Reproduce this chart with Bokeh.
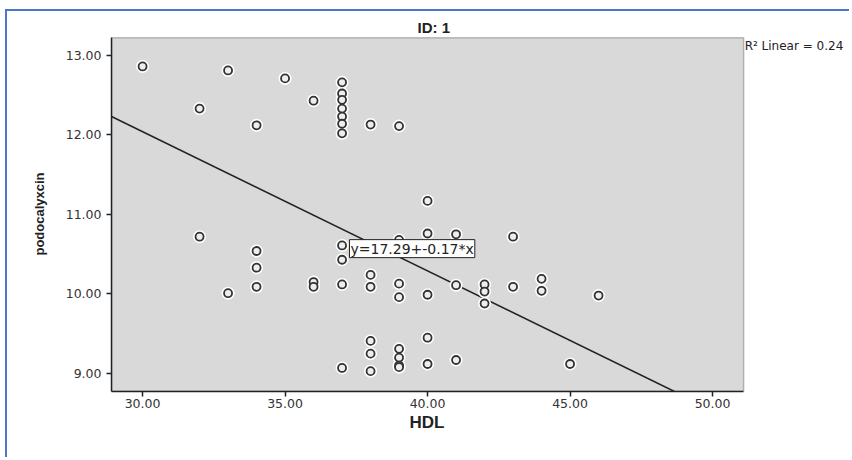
from bokeh.plotting import figure
from bokeh.models import Range1d, FixedTicker, PrintfTickFormatter, Label, BoxAnnotation, Title
from bokeh.embed import file_html
from bokeh.resources import INLINE
import numpy as np

# ---- data ----
hdl = [30, 33, 35, 37, 37, 37, 37, 37, 37, 37, 36, 32, 34, 38, 39,
       40, 32, 34, 34, 34, 33, 36, 36, 37, 37, 37, 38, 38, 39, 40, 41, 43,
       39, 39, 40, 41, 42, 42, 42, 43, 44, 44, 46,
       37, 38, 38, 38, 39, 39, 39, 39, 40, 40, 41, 45]
podo = [12.86, 12.81, 12.71, 12.66, 12.52, 12.44, 12.33, 12.23, 12.14, 12.02, 12.43, 12.33, 12.12, 12.13, 12.11,
        11.17, 10.72, 10.54, 10.33, 10.09, 10.01, 10.15, 10.09, 10.61, 10.43, 10.12, 10.24, 10.09, 10.68, 10.76, 10.75, 10.72,
        10.13, 9.96, 9.99, 10.11, 10.12, 10.03, 9.88, 10.09, 10.19, 10.04, 9.98,
        9.07, 9.41, 9.25, 9.03, 9.31, 9.20, 9.10, 9.08, 9.45, 9.12, 9.17, 9.12]
fit_intercept = 17.29
fit_slope = -0.175
fit_label = "y=17.29+-0.17*x"
r2_label = "R\u00b2 Linear = 0.24"
title_text = "ID: 1"
x_title = "HDL"
y_title = "podocalyxcin"
x_ticks = [30, 35, 40, 45, 50]
y_ticks = [9, 10, 11, 12, 13]

# axis extents of the grey plotting box
X0, X1 = 28.91, 51.09
Y0, Y1 = 8.774, 13.22
PX_PER_X = 28.5
PX_PER_Y = 79.55

W, H = 844, 448
LEFT, BOTTOM, TOP = 104, 68, 25
frame_w = W - LEFT
frame_h = H - BOTTOM - TOP

p = figure(width=W, height=H, output_backend="svg", toolbar_location=None,
           x_range=Range1d(X0, X0 + frame_w / PX_PER_X),
           y_range=Range1d(Y0, Y0 + frame_h / PX_PER_Y),
           min_border_left=LEFT, min_border_right=0, min_border_top=TOP, min_border_bottom=BOTTOM)
p.styles = {"margin-left": "5px", "margin-top": "9px",
            "border-top": "2px solid #4a78c8", "border-left": "2px solid #4a78c8"}

p.background_fill_color = "white"
p.border_fill_color = "white"
p.outline_line_color = None
p.grid.visible = False

# title above the grey box
p.title.text = title_text
p.title.align = "left"
p.title.offset = 306
p.title.text_font = "Liberation Sans"
p.title.text_font_style = "bold"
p.title.text_font_size = "15px"
p.title.text_color = "#222222"
p.title.standoff = 2

# grey plotting box with dark outline
p.add_layout(BoxAnnotation(left=X0, right=X1, bottom=Y0, top=Y1,
                           fill_color="#d9d9d9", fill_alpha=1.0,
                           line_color="#333333", line_width=1.5, level="underlay"))

FONT = "DejaVu Sans"
for ax in (p.xaxis[0], p.yaxis[0]):
    ax.axis_line_color = "#222222"
    ax.axis_line_width = 1.5
    ax.major_tick_line_color = "#222222"
    ax.major_tick_line_width = 1.5
    ax.major_tick_out = 5
    ax.major_tick_in = 0
    ax.minor_tick_line_color = None
    ax.major_label_text_font = FONT
    ax.major_label_text_font_size = "12.5px"
    ax.major_label_text_color = "#333333"
    ax.formatter = PrintfTickFormatter(format="%.2f")

p.xaxis.bounds = (X0, X1)
p.yaxis.bounds = (Y0, Y1)
p.xaxis.ticker = FixedTicker(ticks=x_ticks)
p.yaxis.ticker = FixedTicker(ticks=y_ticks)
p.yaxis.axis_label = y_title
p.yaxis.axis_label_text_font = "Liberation Sans"
p.yaxis.axis_label_text_font_style = "bold"
p.yaxis.axis_label_text_color = "#222222"
p.yaxis.axis_label_text_font_size = "13px"
p.xaxis.major_label_standoff = 2
p.yaxis.major_label_standoff = 5
p.yaxis.axis_label_standoff = 16

# x-axis title, placed under the grey box's centre
p.add_layout(Title(text=x_title, align="left", offset=298, standoff=0,
                   text_font="Liberation Sans", text_font_style="bold",
                   text_font_size="17px", text_color="#222222"), "below")

# regression line, drawn across the grey box
x_hit = (fit_intercept - Y0) / -fit_slope
xs = np.array([X0, min(X1, x_hit)])
p.line(xs, fit_intercept + fit_slope * xs, line_color="#222222", line_width=1.5)

# points: white halo then hollow ring
p.scatter(hdl, podo, size=11, fill_color=None, line_color="white", line_width=2)
p.scatter(hdl, podo, size=8, fill_color="#eeeeee", line_color="#333333", line_width=1.8)

p.add_layout(Label(x=37.26, y=10.57, text=fit_label, text_font=FONT, text_font_size="14px",
                   text_baseline="middle", text_align="left", text_color="#222222",
                   background_fill_color="white", border_line_color="#222222", border_line_width=1,
                   padding=1))

p.add_layout(Label(x=X1 + 1 / PX_PER_X, y=Y1 - 8.5 / PX_PER_Y, text=r2_label, text_font=FONT,
                   text_font_size="12px", text_baseline="middle",
                   text_align="left", text_color="#222222"))

open("out.html", "w").write(file_html(p, INLINE))
